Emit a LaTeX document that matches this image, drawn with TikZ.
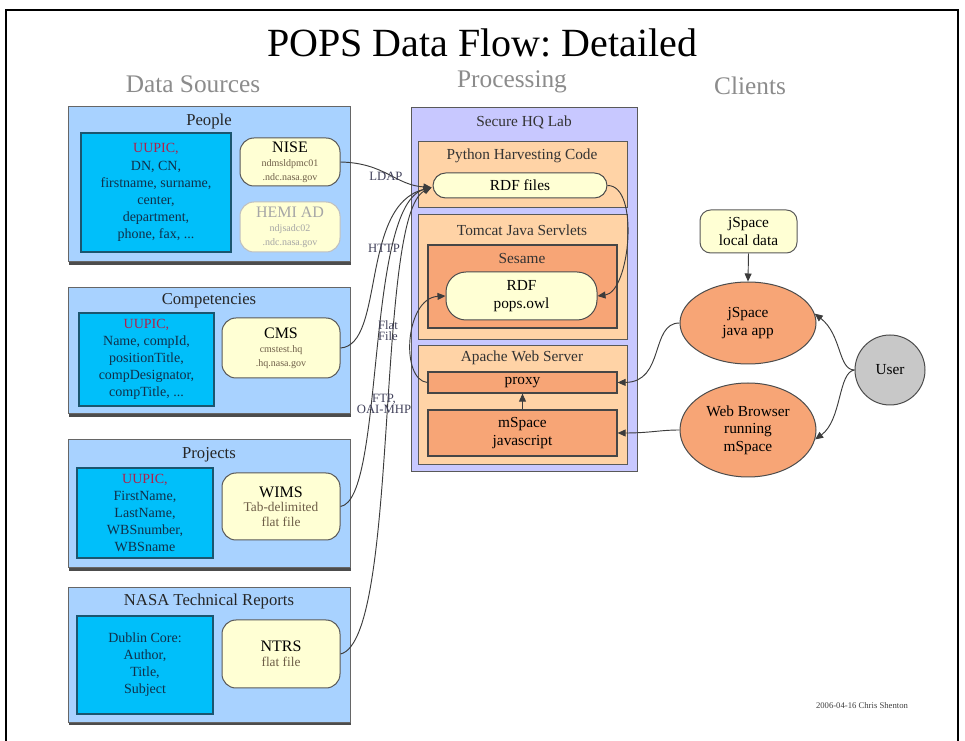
\documentclass[tikz,border=0pt]{standalone}
\usepackage{fontspec}
\setmainfont{Liberation Serif}
\frenchspacing
\usetikzlibrary{fit,shapes.geometric,arrows.meta,shadows}
\definecolor{grpblue}{HTML}{A8D2FF}
\definecolor{cyanbox}{HTML}{00BFFA}
\definecolor{cyanedge}{HTML}{1A5670}
\definecolor{pill}{HTML}{FFFFD4}
\definecolor{lav}{HTML}{C8C8FF}
\definecolor{peach}{HTML}{FFD3A6}
\definecolor{salmon}{HTML}{F7A576}
\definecolor{usergray}{HTML}{C8C8C8}
\definecolor{hdrgray}{HTML}{8C8C8C}
\definecolor{navytxt}{HTML}{10304A}
\definecolor{uupic}{HTML}{B0204A}
\definecolor{hosttxt}{HTML}{6E5E48}
\definecolor{edgegray}{HTML}{3C3C3C}
\definecolor{lbltxt}{HTML}{40405A}
\tikzset{
  grp/.style={fill=grpblue, draw=gray!80!black, line width=0.75pt, inner sep=0pt,
    general shadow={fill=gray!60!black, shadow xshift=1.1pt, shadow yshift=-2.2pt}},
  inner/.style={rectangle, fill=cyanbox, draw=cyanedge, line width=1.5pt, inner sep=0pt, align=center,
    text=navytxt, font=\fontsize{10.5}{12.8}\selectfont},
  srcpill/.style={rectangle, fill=pill, draw=gray!70!black, line width=0.75pt, rounded corners=10.5pt,
    inner sep=0pt, align=center},
  grptitle/.style={font=\fontsize{12.5}{14}\selectfont, text=black!85},
  hdr/.style={font=\fontsize{19}{22}\selectfont, text=hdrgray},
  lavbox/.style={fill=lav, draw=gray!70!black, line width=0.75pt, inner sep=0pt},
  peachbox/.style={fill=peach, draw=gray!70!black, line width=0.75pt, inner sep=0pt},
  salbox/.style={rectangle, fill=salmon, draw=gray!55!black, line width=0.9pt, inner sep=0pt, align=center,
    font=\fontsize{11.5}{13}\selectfont},
  ptitle/.style={font=\fontsize{11.5}{13}\selectfont, text=black!80},
  rdfpill/.style={rectangle, fill=pill, draw=gray!60!black, line width=0.75pt, rounded corners=9.5pt,
    inner sep=0pt, align=center, font=\fontsize{11.5}{13}\selectfont},
  ell/.style={ellipse, fill=salmon, draw=gray!60!black, line width=0.75pt, inner sep=0pt,
    align=center, font=\fontsize{11.5}{13}\selectfont},
  flow/.style={draw=edgegray, line width=0.7pt, -{Triangle[length=6pt,width=5.2pt]}},
  lbl/.style={font=\fontsize{9.5}{10.5}\selectfont, text=lbltxt, align=center},
  wh/.style 2 args={minimum width=#1pt, minimum height=#2pt},
}
\newcommand{\host}[1]{{\fontsize{7.5}{8.5}\selectfont\color{hosttxt}#1}}
\begin{document}
\begin{tikzpicture}[x=0.75pt,y=-0.75pt]
\useasboundingbox (0,0) rectangle (965,741);
\fill[white] (0,0) rectangle (965,741);
% frame
\draw[line width=1.5pt, black] (6,760) -- (6,10) -- (958,10) -- (958,760);
% titles
\node[font=\fontsize{30}{34}\selectfont] (title) at (482,43) {POPS Data Flow: Detailed};
\node[hdr] (hsrc) at (193,84) {Data Sources};
\node[hdr] (hproc) at (512,82) {Processing};
\node[hdr] (hcli) at (750,86) {Clients};

% ---- People
\node[grp, fit={(68,107) (350,262)}] (people) {};
\node[grptitle] (peoplet) at (209,121) {People};
\node[inner, wh={112.5}{89.25}] (peoplei) at (156,192.5) {\textcolor{uupic}{UUPIC,}\\DN, CN,\\firstname, surname,\\center,\\department,\\phone, fax, ...};
\node[srcpill, wh={75}{36}] (nise) at (290,162) {{\fontsize{12}{13}\selectfont NISE}\\[-1pt]\host{ndmsldpmc01}\\[-2pt]\host{.ndc.nasa.gov}};
\node[srcpill, draw=gray!50, text=gray!70, wh={75}{37.5}] (hemi) at (290,227) {{\fontsize{12}{13}\selectfont HEMI AD}\\[-1pt]{\fontsize{7.5}{8.5}\selectfont ndjsadc02}\\[-2pt]{\fontsize{7.5}{8.5}\selectfont .ndc.nasa.gov}};

% ---- Competencies
\node[grp, fit={(68,288) (350,414)}] (comp) {};
\node[grptitle] (compt) at (209,301) {Competencies};
\node[inner, wh={101.25}{69.75}] (compi) at (146.5,359.5) {\textcolor{uupic}{UUPIC,}\\Name, compId,\\positionTitle,\\compDesignator,\\compTitle, ...};
\node[srcpill, wh={88.5}{45}] (cms) at (281,348) {{\fontsize{12}{13}\selectfont CMS}\\[-1pt]\host{cmstest.hq}\\[-2pt]\host{.hq.nasa.gov}};

% ---- Projects
\node[grp, fit={(68,440) (350,568)}] (proj) {};
\node[grptitle] (projt) at (209,455) {Projects};
\node[inner, wh={102}{67.5}] (proji) at (145,513) {\textcolor{uupic}{UUPIC,}\\FirstName,\\LastName,\\WBSnumber,\\WBSname};
\node[srcpill, wh={88.5}{50.25}] (wims) at (281,506.5) {{\fontsize{12}{13}\selectfont WIMS}\\[-1pt]{\fontsize{10}{11}\selectfont\color{hosttxt}Tab-delimited}\\[-1pt]{\fontsize{10}{11}\selectfont\color{hosttxt}flat file}};

% ---- NASA Technical Reports
\node[grp, fit={(68,588) (350,722)}] (ntr) {};
\node[grptitle] (ntrt) at (209,601) {NASA Technical Reports};
\node[inner, wh={102}{73.5}] (ntri) at (145,665) {Dublin Core:\\Author,\\Title,\\Subject};
\node[srcpill, wh={88.5}{51}] (ntrs) at (281,654) {{\fontsize{12}{13}\selectfont NTRS}\\[-1pt]{\fontsize{10}{11}\selectfont\color{hosttxt}flat file}};

% ---- Processing
\node[lavbox, fit={(411,108) (637,472)}] (lab) {};
\node[ptitle] (labt) at (524,122) {Secure HQ Lab};
\node[peachbox, fit={(418,142) (627,208)}] (py) {};
\node[ptitle] (pyt) at (522,156) {Python Harvesting Code};
\node[rdfpill, wh={130.5}{18.75}] (rdf) at (520,185.5) {RDF files};
\node[peachbox, fit={(418,215) (627,340)}] (tom) {};
\node[ptitle] (tomt) at (522,230) {Tomcat Java Servlets};
\node[salbox, fit={(428,245) (617,328)}] (ses) {};
\node[ptitle] (sest) at (522,259) {Sesame};
\node[rdfpill, rounded corners=15pt, wh={113.25}{36}] (pops) at (521.5,296) {RDF\\pops.owl};
\node[peachbox, fit={(418,346) (627,465)}] (apache) {};
\node[ptitle] (apachet) at (522,358) {Apache Web Server};
\node[salbox, wh={141.75}{15.75}] (proxy) at (522.5,382.5) {proxy};
\node[salbox, wh={141.75}{34.5}] (msp) at (522.5,433) {mSpace\\javascript};

% ---- Clients
\node[srcpill, rounded corners=8pt, font=\fontsize{11.5}{13}\selectfont, wh={72.75}{32.25}] (local) at (748.5,231.5) {jSpace\\local data};
\node[ell, minimum width=102pt, minimum height=61.5pt] (japp) at (748,323) {jSpace\\java app};
\node[ell, minimum width=102pt, minimum height=70.5pt] (web) at (748,430) {Web Browser\\running\\mSpace};
\node[circle, fill=usergray, draw=gray!60!black, line width=0.75pt, minimum size=52.5pt, inner sep=0pt,
  font=\fontsize{11.5}{13}\selectfont] (user) at (890,370) {User};

% ---- connectors: sources to RDF files
\coordinate (rdfin) at ([xshift=-0.75pt,yshift=-1.5pt]rdf.west);
\draw[flow] (nise.east) .. controls (385,163) and (395,185) .. (rdfin);
\draw[flow] (cms.east) .. controls (385,345) and (360,205) .. (rdfin);
\draw[flow] (wims.east) .. controls (385,500) and (365,205) .. (rdfin);
\draw[flow] (ntrs.east) .. controls (400,640) and (375,215) .. (rdfin);
\node[lbl] (lldap) at (386,176) {LDAP};
\node[lbl] (lhttp) at (384,248) {HTTP};
\node[lbl] (lflat) at (388,331) {Flat\\[-2pt]File};
\node[lbl] (lftp) at (384,404) {FTP,\\[-2pt]OAI-MHP};

% ---- processing connectors
\draw[flow] (rdf.east) .. controls (640,185) and (630,292) .. (pops.east);
\draw[flow] (proxy.west) .. controls (400,380) and (405,298) .. (pops.west);
\draw[flow] (msp.north) -- (proxy.south);

% ---- clients connectors
\draw[flow] (local.south) -- (japp.north);
\draw[flow] (japp.west) .. controls (650,323) and (665,382) .. (proxy.east);
\draw[flow] (web.west) .. controls (660,430) and (650,433) .. (msp.east);
\draw[flow] (user.west) .. controls (838,370) and (842,335) .. (japp.8);
\draw[flow] (user.west) .. controls (838,372) and (842,420) .. (web.-8);

% signature
\node[font=\fontsize{6.5}{7.5}\selectfont, text=black!75] (sig) at (862,706) {2006-04-16 Chris Shenton};
\end{tikzpicture}
\end{document}
